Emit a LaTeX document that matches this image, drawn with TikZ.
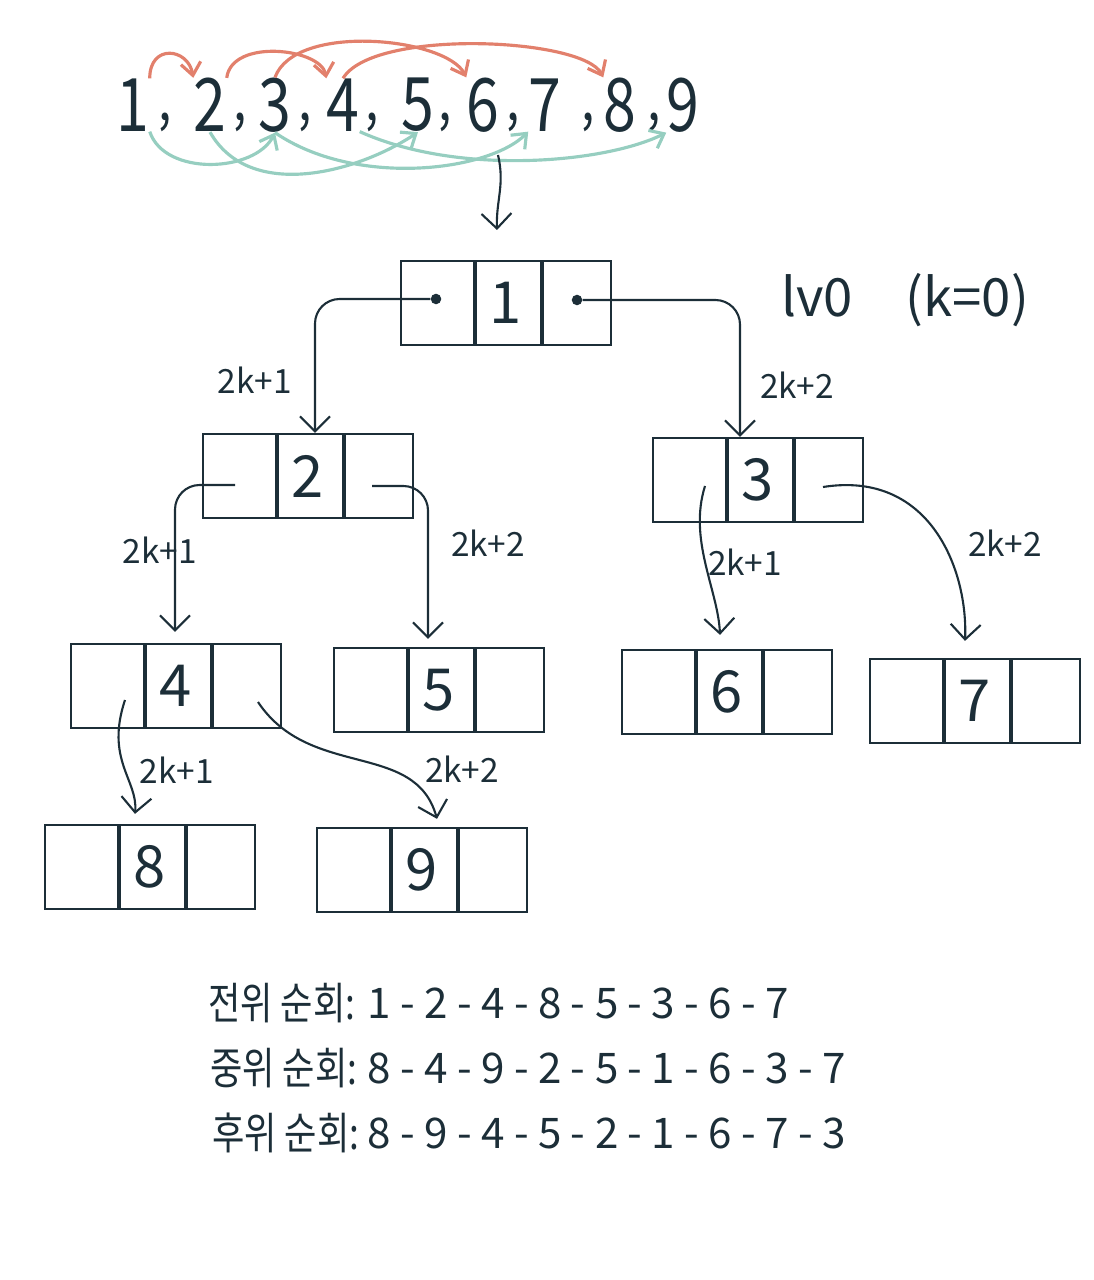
\documentclass[tikz,border=0pt]{standalone}
\usepackage{fontspec}
\setmainfont{Noto Sans CJK KR}
\newfontfamily\narrowfont[FakeStretch=0.8]{Noto Sans CJK KR}
\usepackage{xcolor}
\usepackage{tikz}
\usetikzlibrary{arrows.meta,positioning}
\definecolor{ink}{RGB}{28,46,56}
\definecolor{seq-red}{RGB}{226,128,108}
\definecolor{seq-teal}{RGB}{150,206,192}
\tikzset{>={Straight Barb[width=6mm,length=3mm]}}
\tikzset{
  cellbox/.style={draw=ink, line width=1.3pt, minimum width=4.2cm, minimum height=1.68cm,
    inner sep=0pt, text=ink, font=\fontsize{33}{36}\selectfont,
    path picture={
      \draw[ink, line width=2.6pt]
        ([xshift=-0.62cm]path picture bounding box.north) -- ([xshift=-0.62cm]path picture bounding box.south)
        ([xshift=0.72cm]path picture bounding box.north) -- ([xshift=0.72cm]path picture bounding box.south);}},
  link/.style={->, ink, line width=1.2pt, rounded corners=14pt},
  klabel/.style={text=ink, inner sep=1pt, font=\fontsize{19}{22}\selectfont},
  seqnum/.style={text=ink, inner sep=0pt, font=\narrowfont\fontsize{42}{46}\selectfont},
  seqcomma/.style={text=ink, inner sep=0pt, font=\narrowfont\fontsize{34}{38}\selectfont},
  redarc/.style={->, seq-red, line width=1.8pt, >={Straight Barb[width=4mm,length=2.5mm]}},
  tealarc/.style={->, seq-teal, line width=1.8pt, >={Straight Barb[width=4mm,length=2.5mm]}},
  travel/.style={text=ink, inner sep=0pt, font=\fontsize{24}{28}\selectfont},
  dot/.style={circle, fill=ink, inner sep=0pt, minimum size=6pt}
}

\begin{document}
\begin{tikzpicture}[x=0.02cm, y=-0.02cm]
    \useasboundingbox (0,0) rectangle (1094,1280);

    % the array
    \foreach \n/\x in {1/133,2/210,3/275,4/343,5/418,6/483,7/545,8/620,9/683}
        \node[seqnum] (s\n) at (\x,105) {\n};
    \foreach \i/\x in {1/165,2/240,3/305,4/372,5/445,6/513,7/588,8/654}
        \node[seqcomma] (c\i) at (\x,122) {,};

    \draw[redarc] (s1.north east) .. controls +(0,-35) and +(-5,-30) .. (s2.north west);
    \draw[redarc] (s2.north east) .. controls +(5,-40) and +(-5,-30) .. (s4.north west);
    \draw[redarc] (s3.north) .. controls +(20,-55) and +(-20,-40) .. (s6.north west);
    \draw[redarc] (s4.north) .. controls +(30,-50) and +(-20,-40) .. (s8.north west);

    \draw[tealarc] (s1.south east) .. controls +(15,45) and +(-20,40) .. (s3.south);
    \draw[tealarc] (s2.south) .. controls +(40,70) and +(-60,40) .. (s5.south);
    \draw[tealarc] (s3.south) .. controls +(80,55) and +(-40,40) .. (s7.south west);
    \draw[tealarc] (s4.south east) .. controls +(100,45) and +(-60,30) .. (s9.south west);

    \coordinate (drop) at (498,155);
    \coordinate (droptip) at (497,230);
    \draw[->, ink, line width=1.2pt] (drop) .. controls (505,185) and (496,200) .. (droptip);

    % the tree
    \node[cellbox] (n1) at (506,303) {1};
    \node[cellbox] (n2) at (308,476) {2};
    \node[cellbox] (n3) at (758,480) {3};
    \node[cellbox] (n4) at (176,686) {4};
    \node[cellbox] (n5) at (439,690) {5};
    \node[cellbox] (n6) at (727,692) {6};
    \node[cellbox] (n7) at (975,701) {7};
    \node[cellbox] (n8) at (150,867) {8};
    \node[cellbox] (n9) at (422,870) {9};

    \node[dot] (d1l) at (436,299) {};
    \node[dot] (d1r) at (577,300) {};
    \coordinate (o2l) at (235,485);
    \coordinate (o2r) at (372,486);
    \coordinate (o3l) at (705,486);
    \coordinate (o3r) at (823,487);
    \coordinate (o4l) at (125,700);
    \coordinate (o4r) at (258,702);

    \draw[link] (d1l) -| ([xshift=0.14cm]n2.north);
    \draw[link] (d1r) -| ([xshift=-0.36cm]n3.north);
    \draw[link] (o2l) -| ([xshift=-0.02cm,yshift=0.22cm]n4.north);
    \draw[link] (o2r) -| ([xshift=-0.22cm,yshift=0.16cm]n5.north);
    \draw[link] (o3l) .. controls (688,540) and (718,590) .. ([xshift=-0.14cm,yshift=0.28cm]n6.north);
    \draw[link] (o3r) .. controls (930,470) and (968,570) .. ([xshift=-0.2cm,yshift=0.34cm]n7.north);
    \draw[link] (o4l) .. controls (105,760) and (138,780) .. ([xshift=-0.3cm,yshift=0.2cm]n8.north);
    \draw[link] (o4r) .. controls (310,780) and (415,740) .. ([xshift=0.3cm,yshift=0.16cm]n9.north);

    \node[klabel] (l12) at (255,380) {2k+1};
    \node[klabel] (l13) at (797,385) {2k+2};
    \node[klabel] (l24) at (160,550) {2k+1};
    \node[klabel] (l25) at (488,543) {2k+2};
    \node[klabel] (l36) at (745,562) {2k+1};
    \node[klabel] (l37) at (1005,543) {2k+2};
    \node[klabel] (l48) at (177,770) {2k+1};
    \node[klabel] (l49) at (462,769) {2k+2};

    \node[text=ink, font=\fontsize{30}{34}\selectfont] (lv) at (905,300) {lv0\quad (k=0)};

    % traversals
    \node[travel, anchor=west, font=\narrowfont\fontsize{25}{28}\selectfont] (pre) at (208,1003) {전위 순회:};
    \node[travel, anchor=west] (preseq) at (367,1003) {1 - 2 - 4 - 8 - 5 - 3 - 6 - 7};
    \node[travel, anchor=west, font=\narrowfont\fontsize{25}{28}\selectfont] (in) at (210,1068) {중위 순회:};
    \node[travel, anchor=west] (inseq) at (367,1068) {8 - 4 - 9 - 2 - 5 - 1 - 6 - 3 - 7};
    \node[travel, anchor=west, font=\narrowfont\fontsize{25}{28}\selectfont] (post) at (212,1133) {후위 순회:};
    \node[travel, anchor=west] (postseq) at (367,1133) {8 - 9 - 4 - 5 - 2 - 1 - 6 - 7 - 3};
\end{tikzpicture}
\end{document}
